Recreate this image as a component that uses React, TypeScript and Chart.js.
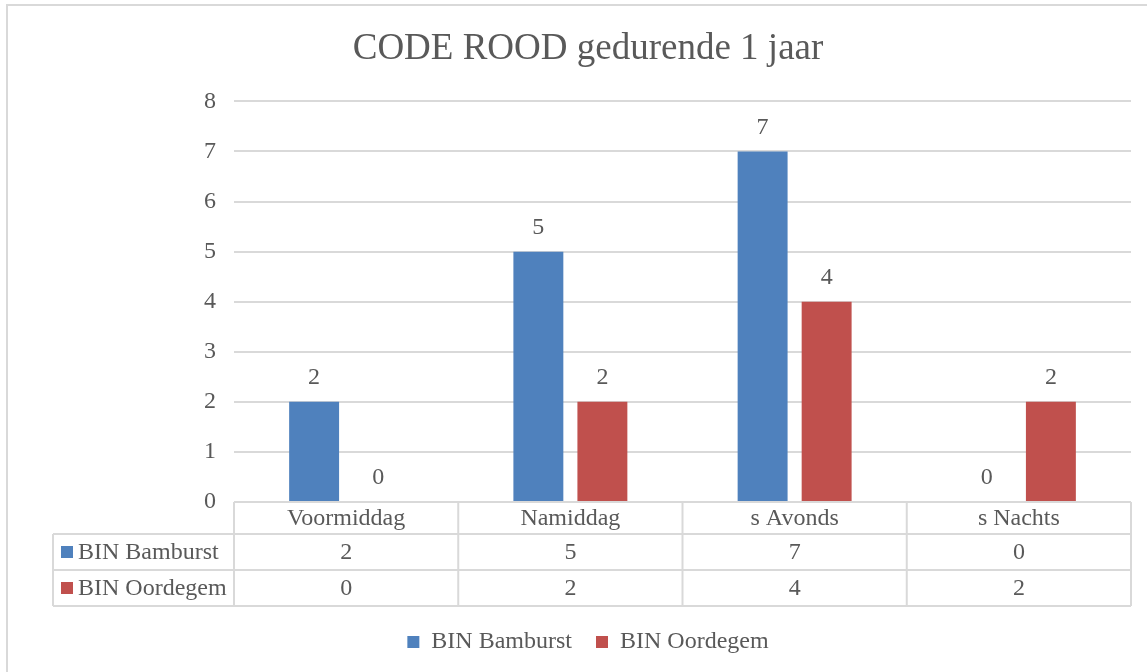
import React, { useEffect, useRef } from "react";
import { Chart, registerables } from "chart.js";

Chart.register(...registerables);

const categories = ["Voormiddag", "Namiddag", "s Avonds", "s Nachts"];
const seriesNames = ["BIN Bamburst", "BIN Oordegem"];
const bamburst = [2, 5, 7, 0];
const oordegem = [0, 2, 4, 2];
const seriesColors = ["#4F81BD", "#C0504D"];
const titleText = "CODE ROOD gedurende 1 jaar";

const FONT = "'Liberation Serif', 'Times New Roman', serif";
const TEXT = "#595959";
const LINE = "#d9d9d9";
const PAD_LEFT = 45;

const framePlugin = {
  id: "frame",
  beforeDraw(chart: any) {
    const ctx = chart.ctx;
    ctx.save();
    ctx.fillStyle = "#ffffff";
    ctx.fillRect(0, 0, chart.width, chart.height);
    ctx.strokeStyle = LINE;
    ctx.lineWidth = 2;
    ctx.strokeRect(7, 5, chart.width + 20, chart.height + 20);
    ctx.restore();
  },
};

const valueLabelPlugin = {
  id: "valueLabels",
  afterDatasetsDraw(chart: any) {
    const ctx = chart.ctx;
    ctx.save();
    ctx.font = `24px ${FONT}`;
    ctx.fillStyle = TEXT;
    ctx.textAlign = "center";
    ctx.textBaseline = "middle";
    chart.data.datasets.forEach((ds: any, di: number) => {
      const meta = chart.getDatasetMeta(di);
      meta.data.forEach((bar: any, i: number) => {
        ctx.fillText(String(ds.data[i]), bar.x, bar.y - 24);
      });
    });
    ctx.restore();
  },
};

const tablePlugin = {
  id: "dataTable",
  afterDraw(chart: any) {
    const ctx = chart.ctx;
    const area = chart.chartArea;
    const xs = chart.scales.x;
    const left = area.left;
    const right = area.right;
    const top = area.bottom;
    const headH = 32;
    const rowH = 36;
    const tableLeft = 53;
    const colW = (right - left) / categories.length;
    ctx.save();
    ctx.strokeStyle = LINE;
    ctx.lineWidth = 2;
    const hLine = (x1: number, x2: number, y: number) => {
      ctx.beginPath();
      ctx.moveTo(x1, y);
      ctx.lineTo(x2, y);
      ctx.stroke();
    };
    const vLine = (x: number, y1: number, y2: number) => {
      ctx.beginPath();
      ctx.moveTo(x, y1);
      ctx.lineTo(x, y2);
      ctx.stroke();
    };
    hLine(left, right, top);
    for (let r = 0; r <= seriesNames.length; r++) {
      hLine(tableLeft, right, top + headH + r * rowH);
    }
    const bottom = top + headH + seriesNames.length * rowH;
    vLine(tableLeft, top + headH, bottom);
    for (let c = 0; c <= categories.length; c++) {
      vLine(left + c * colW, top, bottom);
    }
    ctx.font = `24px ${FONT}`;
    ctx.fillStyle = TEXT;
    ctx.textBaseline = "middle";
    ctx.textAlign = "center";
    categories.forEach((cat, i) => {
      const cx = xs.getPixelForValue(i);
      ctx.fillText(cat, cx, top + headH / 2 + 1);
    });
    const allData = [bamburst, oordegem];
    seriesNames.forEach((name, r) => {
      const cy = top + headH + r * rowH + rowH / 2 + 1;
      ctx.fillStyle = seriesColors[r];
      ctx.fillRect(61, cy - 7, 12, 12);
      ctx.fillStyle = TEXT;
      ctx.textAlign = "left";
      ctx.fillText(name, 78, cy);
      ctx.textAlign = "center";
      allData[r].forEach((v, i) => {
        ctx.fillText(String(v), xs.getPixelForValue(i), cy);
      });
    });
    ctx.restore();
  },
};

export default function App() {
  const ref = useRef<HTMLCanvasElement | null>(null);
  useEffect(() => {
    if (!ref.current) return;
    const chart = new Chart(ref.current, {
      type: "bar",
      data: {
        labels: categories,
        datasets: [
          {
            label: seriesNames[0],
            data: bamburst,
            backgroundColor: seriesColors[0],
            categoryPercentage: 0.571,
            barPercentage: 0.78,
          },
          {
            label: seriesNames[1],
            data: oordegem,
            backgroundColor: seriesColors[1],
            categoryPercentage: 0.571,
            barPercentage: 0.78,
          },
        ],
      },
      options: {
        responsive: false,
        animation: false,
        layout: { padding: { left: PAD_LEFT, right: 16, top: 0, bottom: 8 } },
        plugins: {
          title: {
            display: true,
            text: titleText,
            color: TEXT,
            font: { family: FONT, size: 37, weight: "normal" },
            padding: { top: 27, bottom: 30 },
          },
          legend: {
            display: true,
            position: "bottom",
            labels: {
              color: TEXT,
              font: { family: FONT, size: 24 },
              boxWidth: 12,
              boxHeight: 12,
              padding: 24,
            },
          },
          tooltip: { enabled: false },
        },
        scales: {
          x: {
            grid: { display: false },
            border: { display: false },
            ticks: { display: false },
            afterFit(scale: any) {
              scale.height = 104;
            },
          },
          y: {
            min: 0,
            max: 8,
            ticks: {
              stepSize: 1,
              color: TEXT,
              font: { family: FONT, size: 24 },
              padding: 18,
            },
            grid: { color: LINE, lineWidth: 2, drawTicks: false },
            border: { display: false },
            afterFit(scale: any) {
              scale.width = 234 - PAD_LEFT;
            },
          },
        },
      },
      plugins: [framePlugin, valueLabelPlugin, tablePlugin],
    });
    return () => chart.destroy();
  }, []);
  return (
    <div style={{ position: "fixed", left: 0, top: 0, width: 1147, height: 672 }}>
      <canvas ref={ref} width={1147} height={672} />
    </div>
  );
}
